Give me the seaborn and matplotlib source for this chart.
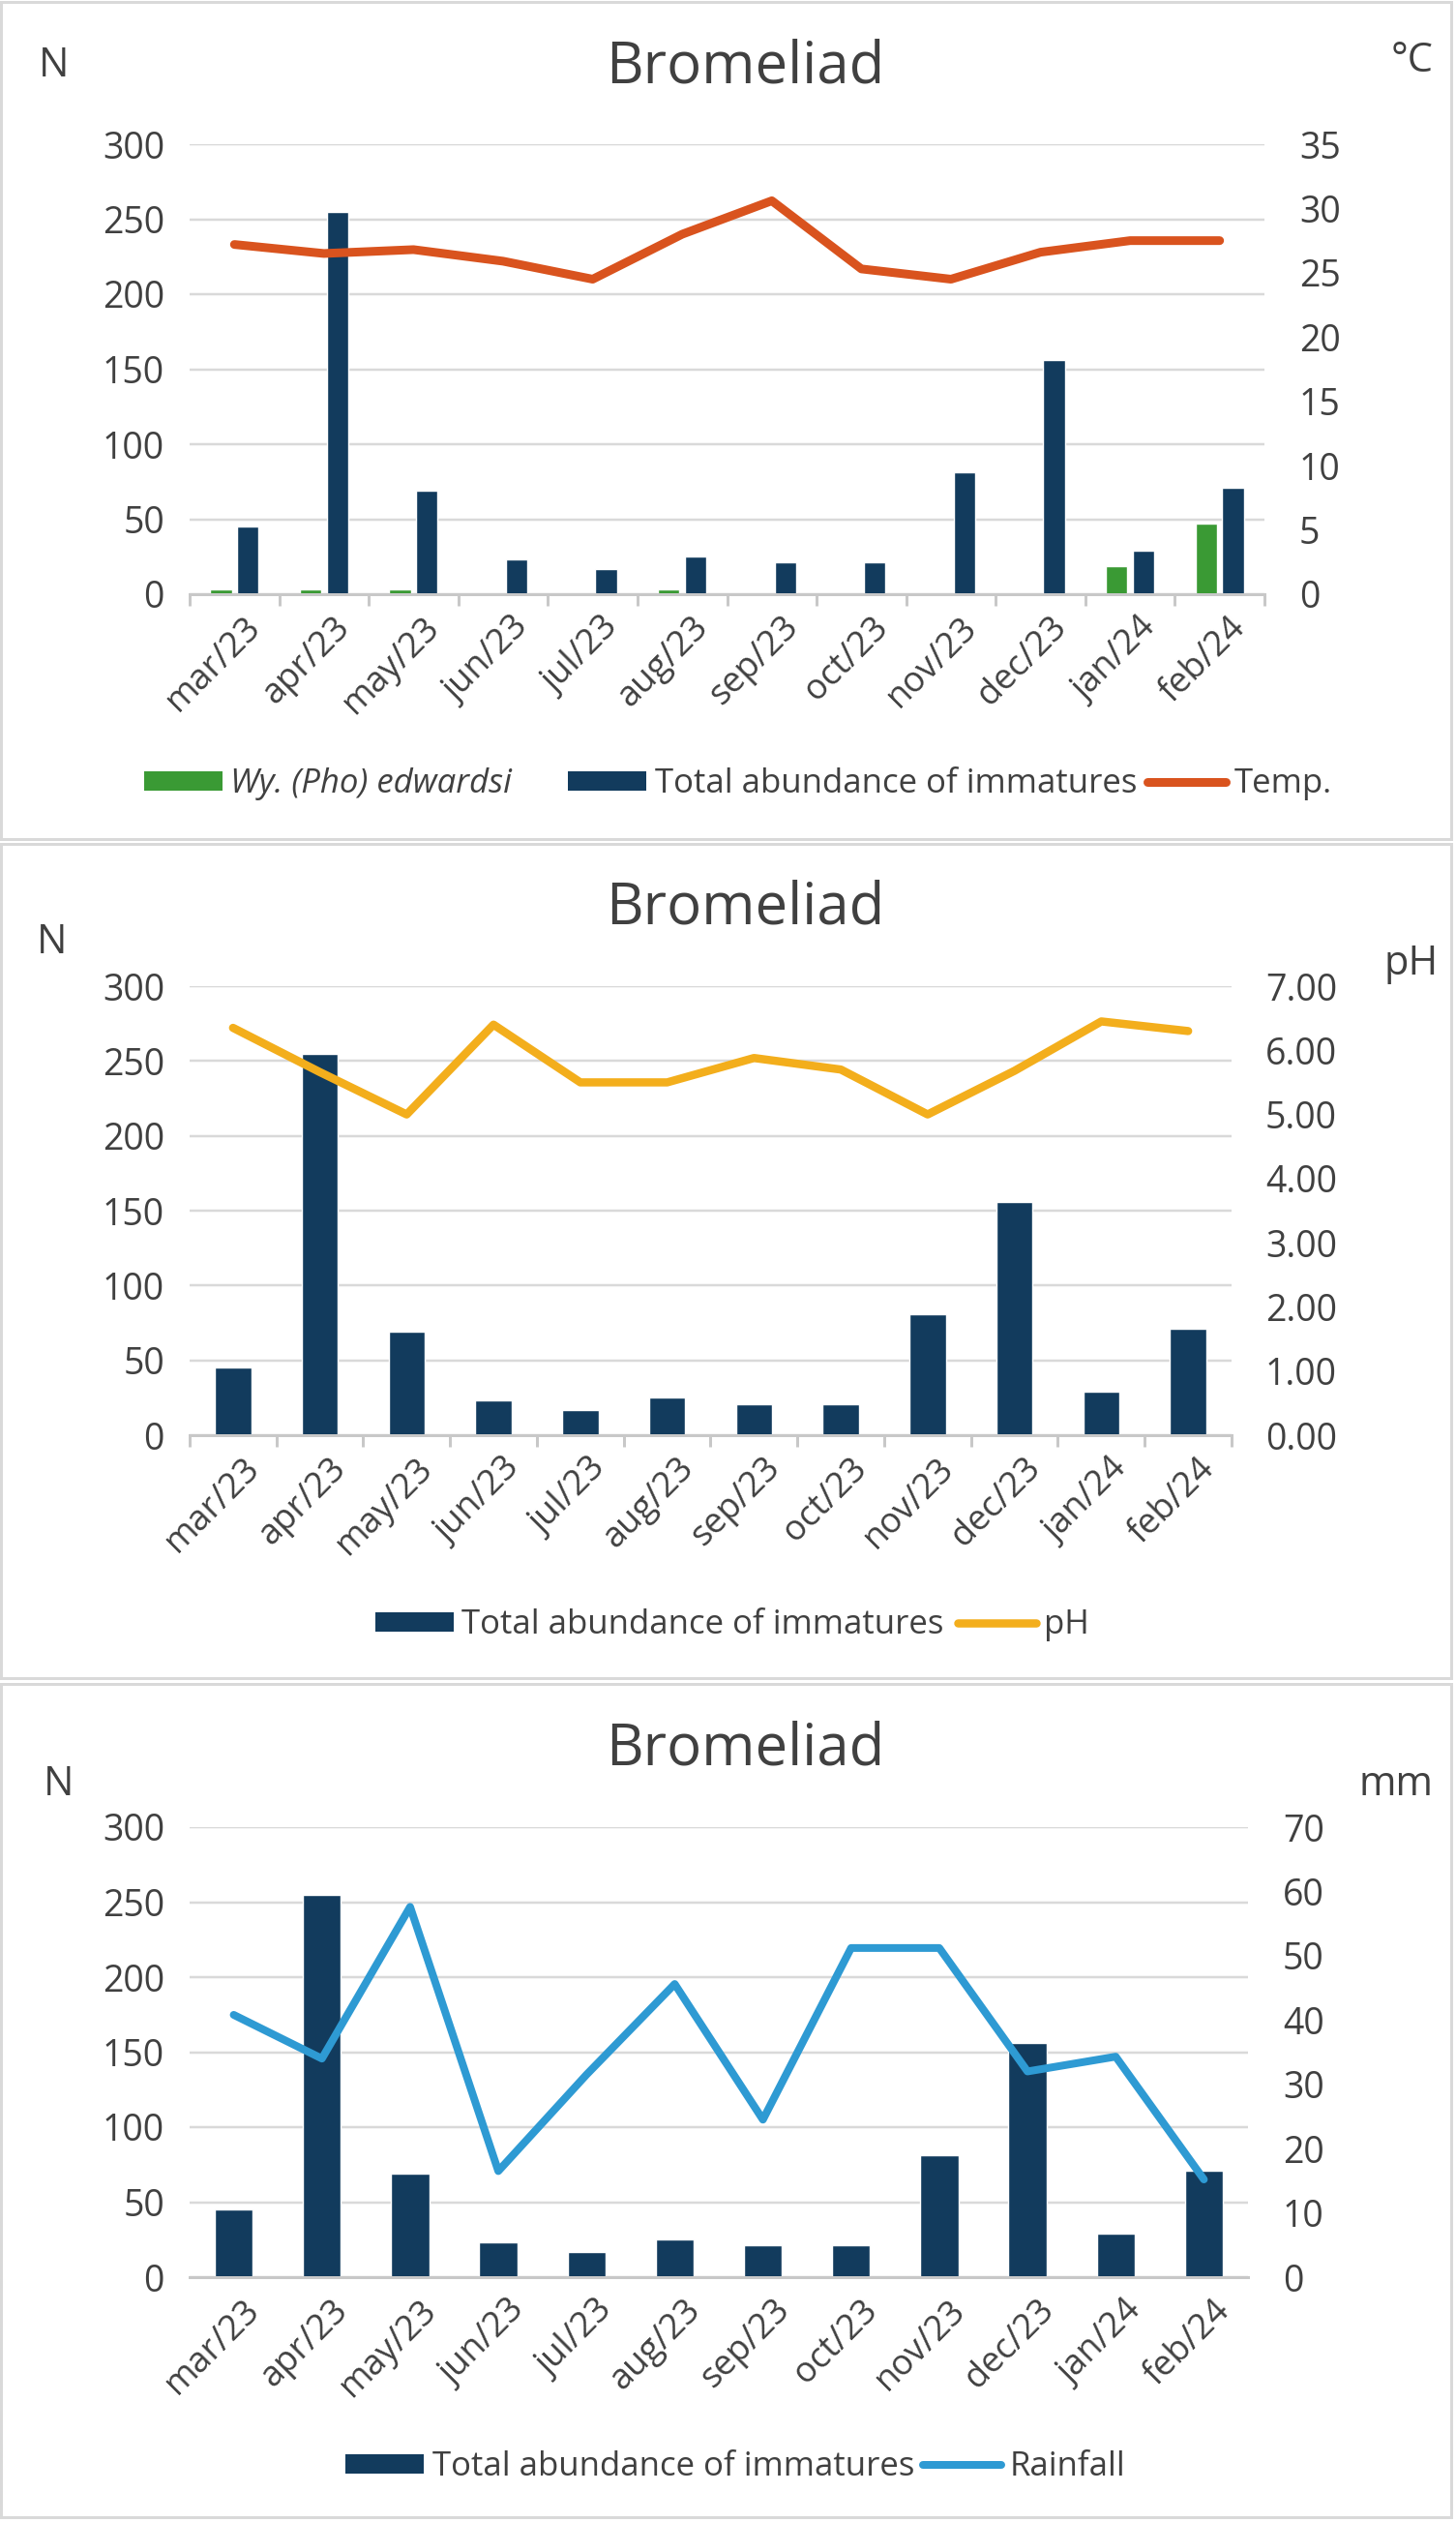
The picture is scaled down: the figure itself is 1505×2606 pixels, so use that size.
import numpy as np
import pandas as pd
import matplotlib
matplotlib.use("Agg")
import matplotlib.pyplot as plt
import seaborn as sns
from matplotlib.patches import Patch, Rectangle
from matplotlib.lines import Line2D
from matplotlib.transforms import ScaledTranslation

# ---------------- data ----------------
months = ["mar/23", "apr/23", "may/23", "jun/23", "jul/23", "aug/23",
          "sep/23", "oct/23", "nov/23", "dec/23", "jan/24", "feb/24"]
total_immatures = [45, 255, 69, 23, 17, 25, 21, 21, 81, 156, 29, 71]
wy_edwardsi = [3, 3, 3, 0, 0, 3, 0, 0, 0, 0, 19, 47]
temperature = [27.2, 26.5, 26.8, 25.9, 24.5, 28.0, 30.6, 25.3, 24.5, 26.6, 27.5, 27.5]
ph_values = [6.35, 5.66, 5.0, 6.4, 5.5, 5.5, 5.88, 5.7, 5.0, 5.68, 6.45, 6.3]
rainfall = [40.8, 34.0, 57.6, 16.5, 31.5, 45.6, 24.5, 51.2, 51.2, 32.0, 34.3, 15.2]

left_ticks = [0, 50, 100, 150, 200, 250, 300]
temp_ticks = [0, 5, 10, 15, 20, 25, 30, 35]
ph_ticks = [0, 1, 2, 3, 4, 5, 6, 7]
rain_ticks = [0, 10, 20, 30, 40, 50, 60, 70]

# ---------------- style ----------------
sns.set_theme(style="white")
plt.rcParams["font.family"] = ["Open Sans", "DejaVu Sans"]

W, H, DPI = 1505, 2606, 100
TXT = "#404040"
NAVY = "#123b5d"
GREEN = "#3a9a34"
ORANGE = "#d9531e"
YELLOW = "#f3ae1c"
BLUE = "#2e9ad3"
GRID = "#d9d9d9"
AXLINE = "#c8c8c8"
YTICK_FS = 27
XTICK_FS = 26
LEG_FS = 25
PX = 72.0 / DPI  # points per pixel

fig = plt.figure(figsize=(W / DPI, H / DPI), dpi=DPI)
fig.patch.set_facecolor("white")


def ax_rect(x0, x1, y0, y1):
    return [x0 / W, 1 - y1 / H, (x1 - x0) / W, (y1 - y0) / H]


def style_axes(ax, ax2, rticks, rfmt, rpad_px, boundary_ticks=True):
    ax.set_ylim(0, 300)
    ax.set_yticks(left_ticks)
    ax.set_xlim(-0.5, len(months) - 0.5)
    ax.set_axisbelow(True)
    ax.yaxis.grid(True, color=GRID, lw=2.5 * PX)
    ax.xaxis.grid(False)
    for s in ["top", "left", "right"]:
        ax.spines[s].set_visible(False)
    ax.spines["bottom"].set_color(AXLINE)
    ax.spines["bottom"].set_linewidth(3 * PX)
    ax.set_xlabel("")
    ax.set_ylabel("")
    ax.tick_params(axis="y", length=0, pad=26 * PX, labelsize=YTICK_FS, labelcolor=TXT)
    ax.set_xticks(range(len(months)))
    ax.set_xticklabels(months, rotation=45, ha="right", va="center",
                       rotation_mode="anchor", fontsize=XTICK_FS, color=TXT)
    ax.tick_params(axis="x", which="major", length=0, pad=29 * PX, bottom=True)
    if boundary_ticks:
        ax.set_xticks(np.arange(-0.5, len(months), 1.0), minor=True)
        ax.tick_params(axis="x", which="minor", length=12 * PX, width=3 * PX,
                       color=AXLINE, direction="out", bottom=True)
    off = ScaledTranslation(22 / DPI, 0, fig.dpi_scale_trans)
    for lab in ax.get_xticklabels():
        lab.set_transform(lab.get_transform() + off)

    ax2.set_ylim(rticks[0], rticks[-1])
    ax2.set_yticks(rticks)
    ax2.set_yticklabels([rfmt.format(t) for t in rticks])
    ax2.tick_params(axis="y", length=0, pad=rpad_px * PX, labelsize=YTICK_FS, labelcolor=TXT)
    ax2.grid(False)
    for s in ax2.spines.values():
        s.set_visible(False)
    ax2.set_ylabel("")
    ax2.set_xlabel("")
    ax2.set_xlim(-0.5, len(months) - 0.5)


x_pos = np.arange(len(months))
LW_T, LW_P, LW_R = 9 * PX, 8.5 * PX, 8 * PX

# ---------------- panel 1 ----------------
ax1 = fig.add_axes(ax_rect(196, 1307, 149, 614))
df1 = pd.DataFrame({
    "month": months * 2,
    "series": ["Wy. (Pho) edwardsi"] * len(months) + ["Total abundance of immatures"] * len(months),
    "value": wy_edwardsi + total_immatures,
})
sns.barplot(data=df1, x="month", y="value", hue="series", order=months,
            hue_order=["Wy. (Pho) edwardsi", "Total abundance of immatures"],
            palette=[GREEN, NAVY], width=0.6, gap=0.2, saturation=1,
            legend=False, ax=ax1, errorbar=None)
ax1b = ax1.twinx()
sns.lineplot(x=x_pos, y=temperature, ax=ax1b, color=ORANGE, lw=LW_T,
             solid_capstyle="round", solid_joinstyle="round")
style_axes(ax1, ax1b, temp_ticks, "{:d}", 36)

# ---------------- panel 2 ----------------
ax2 = fig.add_axes(ax_rect(196, 1273, 1019, 1483))
sns.barplot(x=months, y=total_immatures, order=months, color=NAVY, width=0.42,
            saturation=1, ax=ax2, errorbar=None)
ax2b = ax2.twinx()
sns.lineplot(x=x_pos, y=ph_values, ax=ax2b, color=YELLOW, lw=LW_P,
             solid_capstyle="round", solid_joinstyle="round")
style_axes(ax2, ax2b, ph_ticks, "{:.2f}", 35)

# ---------------- panel 3 ----------------
ax3 = fig.add_axes(ax_rect(196, 1290, 1888, 2353))
sns.barplot(x=months, y=total_immatures, order=months, color=NAVY, width=0.43,
            saturation=1, ax=ax3, errorbar=None)
ax3b = ax3.twinx()
sns.lineplot(x=x_pos, y=rainfall, ax=ax3b, color=BLUE, lw=LW_R,
             solid_capstyle="round", solid_joinstyle="round")
style_axes(ax3, ax3b, rain_ticks, "{:d}", 36, boundary_ticks=False)

# ---------------- panel frames ----------------
for (y0, y1) in [(2, 867), (872, 1734), (1740, 2601)]:
    fig.patches.append(Rectangle((1 / W, 1 - y1 / H), 1499 / W, (y1 - y0) / H,
                                 transform=fig.transFigure, fill=False,
                                 edgecolor=GRID, lw=3 * PX))

# ---------------- titles and axis labels ----------------
for yb in [85, 955, 1824]:
    fig.text(770 / W, 1 - yb / H, "Bromeliad", ha="center", va="baseline",
             fontsize=43, color=TXT)
for (x, yb) in [(40, 79), (38, 985), (45, 1855)]:
    fig.text(x / W, 1 - yb / H, "N", ha="left", va="baseline", fontsize=30, color=TXT)
for (x, yb, t) in [(1438, 74, "°C"), (1431, 1007, "pH"), (1405, 1855, "mm")]:
    fig.text(x / W, 1 - yb / H, t, ha="left", va="baseline", fontsize=30, color=TXT)

# ---------------- legends ----------------
leg_kw = dict(loc="center", frameon=False, fontsize=LEG_FS,
              handlelength=2.33, handleheight=0.52, handletextpad=0.25,
              labelcolor=TXT, borderaxespad=0, borderpad=0)

# panel 1: first entry separated by a wider gap, as in the reference
la = fig.legend([Patch(facecolor=GREEN, edgecolor="none")], ["Wy. (Pho) edwardsi"],
                bbox_to_anchor=(339 / W, 1 - 810 / H), ncol=1, **leg_kw)
la.get_texts()[0].set_style("italic")
h1 = [Patch(facecolor=NAVY, edgecolor="none"),
      Line2D([], [], color=ORANGE, lw=LW_T, solid_capstyle="round")]
fig.legend(h1, ["Total abundance of immatures", "Temp."],
           bbox_to_anchor=(982 / W, 1 - 810 / H), ncol=2, columnspacing=0.3, **leg_kw)

h2 = [Patch(facecolor=NAVY, edgecolor="none"),
      Line2D([], [], color=YELLOW, lw=LW_P, solid_capstyle="round")]
fig.legend(h2, ["Total abundance of immatures", "pH"],
           bbox_to_anchor=(757 / W, 1 - 1679 / H), ncol=2, columnspacing=0.4, **leg_kw)

h3 = [Patch(facecolor=NAVY, edgecolor="none"),
      Line2D([], [], color=BLUE, lw=LW_R, solid_capstyle="round")]
fig.legend(h3, ["Total abundance of immatures", "Rainfall"],
           bbox_to_anchor=(760 / W, 1 - 2549 / H), ncol=2, columnspacing=0.25, **leg_kw)

fig.savefig("out.png", dpi=DPI, facecolor="white")
